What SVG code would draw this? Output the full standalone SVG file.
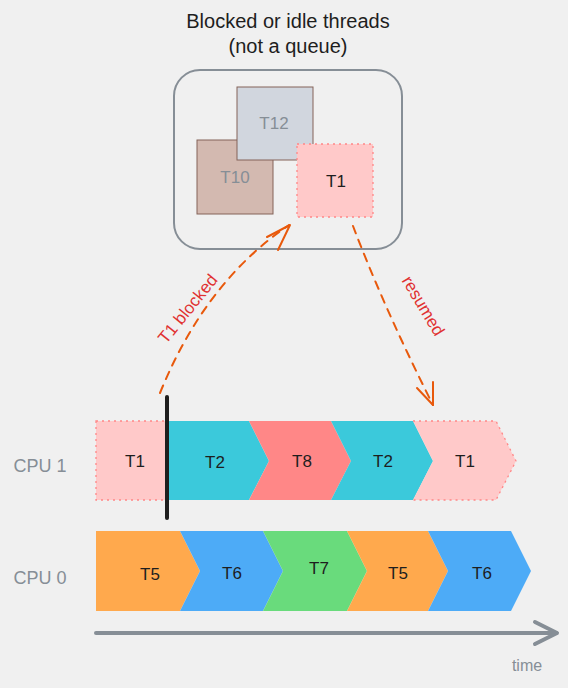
<svg xmlns="http://www.w3.org/2000/svg" width="568" height="688" viewBox="0 0 568 688">
<defs>
<style>
text{font-family:"Liberation Sans","DejaVu Sans",sans-serif;}
.lbl{font-size:17px;fill:#1e1e1e;text-anchor:middle;dominant-baseline:central;}
.gray{fill:#868e96;}
.cpu{font-size:18px;fill:#868e96;text-anchor:middle;dominant-baseline:central;}
.title{font-size:20px;fill:#1e1e1e;text-anchor:middle;}
.dot{stroke:#ff8787;stroke-width:1.3;stroke-dasharray:2 4;}
.conn{fill:none;stroke:#e8590c;stroke-width:2;stroke-dasharray:8 7;stroke-linecap:round;}
.head{fill:none;stroke:#e8590c;stroke-width:2;stroke-linecap:round;stroke-linejoin:round;}
.red{font-size:17px;fill:#e03131;text-anchor:middle;dominant-baseline:central;}
</style>
</defs>
<rect width="568" height="688" fill="#f0f0f0"/>
<g id="title">
<text class="title" x="288" y="28">Blocked or idle threads</text>
<text class="title" x="288" y="53">(not a queue)</text>
</g>
<g id="pool">
<rect x="174" y="70" width="228" height="179" rx="26" fill="none" stroke="#868e96" stroke-width="2"/>
</g>
<g id="pool-T10">
<rect x="197" y="140" width="76" height="74" fill="#d3b9b0" stroke="#846358" stroke-width="1"/>
<text class="lbl gray" x="235" y="177">T10</text>
</g>
<g id="pool-T12">
<rect x="237" y="87" width="76" height="73" fill="#d1d6de" stroke="#846358" stroke-width="1"/>
<text class="lbl gray" x="274" y="123">T12</text>
</g>
<g id="pool-T1">
<rect x="297" y="144" width="76" height="73" fill="#ffc9c9" class="dot"/>
<text class="lbl" x="336" y="181">T1</text>
</g>
<g id="cpu1-label"><text class="cpu" x="40" y="466">CPU 1</text></g>
<g id="cpu0-label"><text class="cpu" x="40" y="578">CPU 0</text></g>
<g id="cpu1-T1a">
<rect x="96" y="421" width="72" height="79" fill="#ffc9c9" class="dot"/>
<text class="lbl" x="135" y="461">T1</text>
</g>
<g id="cpu1-T2a">
<polygon points="167,421 249,421 269,461 249,500 167,500" fill="#3bc9db"/>
<text class="lbl" x="215" y="462">T2</text>
</g>
<g id="cpu1-T8">
<polygon points="249,421 331,421 351,461 331,500 249,500 269,461" fill="#ff8787"/>
<text class="lbl" x="302" y="461">T8</text>
</g>
<g id="cpu1-T2b">
<polygon points="331,421 413,421 433,461 413,500 331,500 351,461" fill="#3bc9db"/>
<text class="lbl" x="383" y="461">T2</text>
</g>
<g id="cpu1-T1b">
<polygon points="413,421 496,421 516,461 496,500 413,500 433,461" fill="#ffc9c9"/>
<polyline points="413,421 496,421 516,461 496,500 413,500" fill="none" class="dot"/>
<text class="lbl" x="465" y="461">T1</text>
</g>
<g id="block-marker">
<line x1="167" y1="397" x2="167" y2="518" stroke="#1e1e1e" stroke-width="4" stroke-linecap="round"/>
</g>
<g id="cpu0-T5a">
<polygon points="96,531 180,531 200,571 180,611 96,611" fill="#ffa94d"/>
<text class="lbl" x="150" y="574">T5</text>
</g>
<g id="cpu0-T6a">
<polygon points="180,531 263,531 283,571 263,611 180,611 200,571" fill="#4dabf7"/>
<text class="lbl" x="232" y="573">T6</text>
</g>
<g id="cpu0-T7">
<polygon points="263,531 347,531 367,571 347,611 263,611 283,571" fill="#69db7c"/>
<text class="lbl" x="319" y="568">T7</text>
</g>
<g id="cpu0-T5b">
<polygon points="347,531 428,531 448,571 428,611 347,611 367,571" fill="#ffa94d"/>
<text class="lbl" x="398" y="573">T5</text>
</g>
<g id="cpu0-T6b">
<polygon points="428,531 511,531 531,571 511,611 428,611 448,571" fill="#4dabf7"/>
<text class="lbl" x="482" y="573">T6</text>
</g>
<g id="time-axis">
<line x1="96" y1="633" x2="556" y2="633" stroke="#868e96" stroke-width="4" stroke-linecap="round"/>
<polyline points="535,622 557,633 535,644" fill="none" stroke="#868e96" stroke-width="4" stroke-linecap="round" stroke-linejoin="round"/>
<text x="527" y="671" font-size="16" fill="#868e96" text-anchor="middle">time</text>
</g>
<g id="connectors">
<path class="conn" d="M160,393 Q205,282 289,225"/>
<polyline class="head" points="267,237 290,225 278,250"/>
<path class="conn" d="M353,226 Q385,310 433,405"/>
<polyline class="head" points="417,388 433,405 433,382"/>
<text class="red" transform="translate(188,309) rotate(-51)">T1 blocked</text>
<text class="red" transform="translate(423,306) rotate(59)">resumed</text>
</g>
</svg>
